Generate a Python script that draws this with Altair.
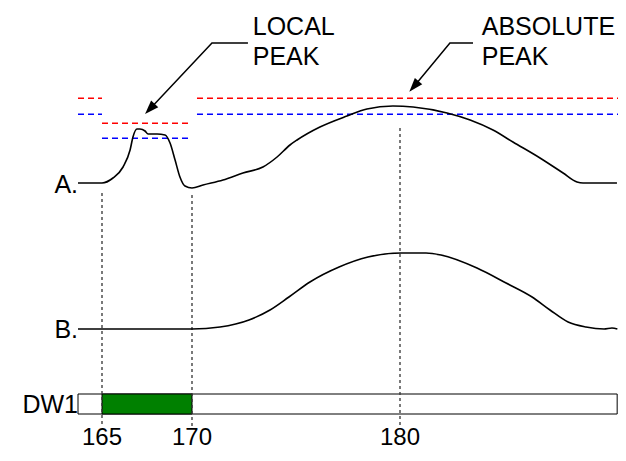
import altair as alt
import pandas as pd

# ---- data ----
# trace A (time, amplitude above its baseline)
a_t = [163.67, 165.0, 165.61, 166.17, 166.56, 166.72, 166.94, 167.11, 167.39, 167.56,
       168.06, 168.5, 168.78, 169.06, 169.33, 169.61, 170.0, 170.53, 171.49, 172.45,
       173.41, 174.09, 174.71, 175.05, 176.15, 177.45, 178.41, 179.66, 180.63, 182.26,
       183.37, 184.47, 185.43, 186.73, 187.84, 188.51, 188.8, 190.43]
a_amp = [0, 0, 5, 16, 33, 46, 54, 54, 52, 49,
         49, 48, 40, 23, 6, -3, -5, -2, 3, 10,
         16, 26, 38, 43, 56, 67, 74, 77, 76, 70,
         63, 53, 41, 25, 10, 1, 0, 0]
# trace B
b_t = [163.67, 170.0, 171.35, 172.74, 173.75, 174.66, 175.67, 177.07, 178.46, 180.05,
       181.25, 181.97, 183.7, 185.1, 186.35, 187.21, 188.08, 188.94, 189.81, 190.19, 190.45]
b_amp = [0, 0, 2, 9, 19, 32, 47, 62, 72, 76,
         76, 74, 61, 46, 32, 19, 7, 2, 0, 1, 0]

track_names = ["A.", "B.", "DW1"]
track_base = [278, 132, 57]

# thresholds (amplitude above A baseline)
thr_start = [163.67, 170.24, 165.0, 163.67, 170.24, 165.0]
thr_end = [165.0, 190.48, 169.83, 165.0, 190.48, 169.83]
thr_amp = [84.7, 84.7, 59.7, 68.7, 68.7, 44.7]
thr_color = ["#ff0000", "#ff0000", "#ff0000", "#0000ff", "#0000ff", "#0000ff"]

marker_t = [165, 170, 180]
marker_top = [268, 266, 333]
marker_bottom = 35

dw_start, dw_end = 163.67, 190.44
dw_on_start, dw_on_end = 165, 170
dw_low, dw_high = 47, 67

ann_text = [["LOCAL", "PEAK"], ["ABSOLUTE", "PEAK"]]
ann_t = [172.92, 183.93]
ann_level = [426, 396]
arrow_path = [[(172.69, 418), (170.96, 418), (167.66, 352.1)],
              [(183.51, 418), (182.40, 418), (180.67, 374.6)]]
arrow_angle = [223.3, 221.2]

FONT = "Liberation Sans"

# ---- scales ----
xs = alt.Scale(domain=[163.67, 165, 170, 180, 190.48], range=[70, 94, 184, 392, 610],
               nice=False, zero=False)
ys = alt.Scale(domain=[8, 453], nice=False, zero=False)

def X(f):
    return alt.X(f, type="quantitative", scale=xs, axis=None)

def Y(f):
    return alt.Y(f, type="quantitative", scale=ys, axis=None)

# ---- tables ----
traces = pd.DataFrame(
    [{"track": "A", "t": t, "level": track_base[0] + v} for t, v in zip(a_t, a_amp)]
    + [{"track": "B", "t": t, "level": track_base[1] + v} for t, v in zip(b_t, b_amp)]
)
traces["order"] = range(len(traces))

thr = pd.DataFrame({"t1": thr_start, "t2": thr_end,
                    "level": [track_base[0] + v for v in thr_amp], "color": thr_color,
                    "id": range(len(thr_start))})

markers = pd.DataFrame({"t": marker_t, "top": marker_top, "bottom": marker_bottom,
                        "label": [str(v) for v in marker_t], "lab_level": 16})

bar = pd.DataFrame({"t1": [dw_start, dw_on_start], "t2": [dw_end, dw_on_end],
                    "lo": [dw_low, dw_low], "hi": [dw_high, dw_high],
                    "fill": ["#ffffff", "#008000"]})

labels = pd.DataFrame({"name": track_names, "t": [163.67] * 3,
                       "level": [268, 123, 48], "dx": [-11, -10, -13]})

ann_rows = []
for txt, t in zip(ann_text, ann_t):
    for i, line in enumerate(txt):
        ann_rows.append({"text": line, "t": t, "level": ann_level[i]})
ann = pd.DataFrame(ann_rows)

arr_rows = []
for k, pts in enumerate(arrow_path):
    for j, (t, lv) in enumerate(pts):
        arr_rows.append({"arrow": k, "o": j, "t": t, "level": lv})
arr = pd.DataFrame(arr_rows)
heads = pd.DataFrame({"t": [p[-1][0] for p in arrow_path],
                      "level": [p[-1][1] for p in arrow_path],
                      "angle": arrow_angle})

# ---- layers ----
thr_layer = alt.Chart(thr).mark_rule(strokeWidth=1.5, strokeDash=[6, 4]).encode(
    x=X("t1"), x2="t2", y=Y("level"),
    color=alt.Color("color:N", scale=None), detail="id:N")

curve_layer = alt.Chart(traces).mark_line(color="black", strokeWidth=1.6,
                                         interpolate="monotone").encode(
    x=X("t"), y=Y("level"), detail="track:N", order="order:Q")

bar_layer = alt.Chart(bar).mark_rect(stroke="black", strokeWidth=1).encode(
    x=X("t1"), x2="t2", y=Y("lo"), y2="hi",
    fill=alt.Fill("fill:N", scale=None))

marker_layer = alt.Chart(markers).mark_rule(color="#333333", strokeWidth=1.3,
                                            strokeDash=[3, 3]).encode(
    x=X("t"), y=Y("top"), y2="bottom")

tick_text = alt.Chart(markers).mark_text(font=FONT, fontSize=24, color="black",
                                         align="center", baseline="alphabetic").encode(
    x=X("t"), y=Y("lab_level"), text="label:N")

lab_layer = alt.Chart(labels).mark_text(font=FONT, fontSize=25, color="black",
                                        align="right", baseline="alphabetic").encode(
    x=X("t"), y=Y("level"), text="name:N", xOffset=alt.XOffset("dx:Q", scale=None))

ann_layer = alt.Chart(ann).mark_text(font=FONT, fontSize=25, color="black",
                                     align="left", baseline="alphabetic").encode(
    x=X("t"), y=Y("level"), text="text:N")

arrow_layer = alt.Chart(arr).mark_line(color="black", strokeWidth=1.5).encode(
    x=X("t"), y=Y("level"), detail="arrow:N", order="o:Q")

head_layer = alt.Chart(heads).mark_point(shape="M0,-1L0.7,1L-0.7,1Z", size=196,
                                         filled=True, color="black", opacity=1).encode(
    x=X("t"), y=Y("level"), angle=alt.Angle("angle:Q", scale=None))

chart = alt.layer(
    thr_layer, bar_layer, marker_layer, curve_layer, tick_text, lab_layer,
    ann_layer, arrow_layer, head_layer
).properties(
    width=610, height=445, padding=0, autosize=alt.AutoSizeParams(type="none")
).configure_view(strokeWidth=0)

chart.save("out.html", embed_options={"renderer": "svg", "actions": False})
